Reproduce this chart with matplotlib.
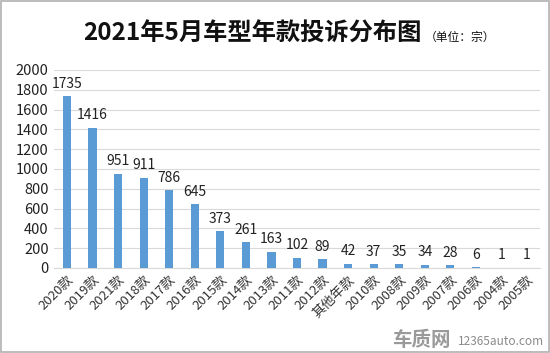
import matplotlib
matplotlib.use("Agg")
import matplotlib.pyplot as plt
from matplotlib.patches import Rectangle

plt.rcParams['font.family'] = ['Noto Sans CJK SC', 'DejaVu Sans']

categories = ["2020款", "2019款", "2021款", "2018款", "2017款", "2016款", "2015款", "2014款",
              "2013款", "2011款", "2012款", "其他年款", "2010款", "2008款", "2009款", "2007款",
              "2006款", "2004款", "2005款"]
values = [1735, 1416, 951, 911, 786, 645, 373, 261, 163, 102, 89, 42, 37, 35, 34, 28, 6, 1, 1]
yticks = [0, 200, 400, 600, 800, 1000, 1200, 1400, 1600, 1800, 2000]

fig = plt.figure(figsize=(5.5, 3.53), dpi=100)
fig.patches.append(Rectangle((0.002, 0.003), 0.996, 0.994, transform=fig.transFigure,
                             fill=False, edgecolor="#b0b0b0", linewidth=1.2))
ax = fig.add_axes([0.0985, 0.241, 0.883, 0.561])
x = list(range(len(categories)))
ax.bar(x, values, width=0.32, color="#5B9BD5", zorder=3)
for xi, v in zip(x, values):
    ax.text(xi, v + 55, str(v), ha="center", va="bottom", fontsize=10, color="#222222")
ax.set_xlim(-0.5, len(categories) - 0.5)
ax.set_ylim(0, 2000)
ax.set_yticks(yticks)
ax.set_yticklabels([str(t) for t in yticks], fontsize=10.5, color="#222222")
ax.set_xticks(x)
ax.set_xticklabels(categories, rotation=45, ha="right", rotation_mode="anchor", fontsize=9.5, color="#333333")
ax.tick_params(axis="both", length=0, pad=4)
ax.grid(axis="y", color="#d9d9d9", linewidth=0.8, zorder=0)
for s in ["top", "right", "left"]:
    ax.spines[s].set_visible(False)
ax.spines["bottom"].set_color("#d9d9d9")

fig.text(0.458, 0.904, "2021年5月车型年款投诉分布图", ha="center", va="center",
         fontsize=17.5, fontweight="bold", color="#111111")
fig.text(0.772, 0.893, "（单位：宗）", ha="left", va="center", fontsize=8.5, color="#111111")
fig.text(0.713, 0.036, "车质网", ha="left", va="center", fontsize=14, fontweight="bold", color="#9a9a9a")
fig.text(0.833, 0.032, "12365auto.com", ha="left", va="center", fontsize=8.5, color="#8a8a8a")

fig.savefig("out.png", dpi=100)
